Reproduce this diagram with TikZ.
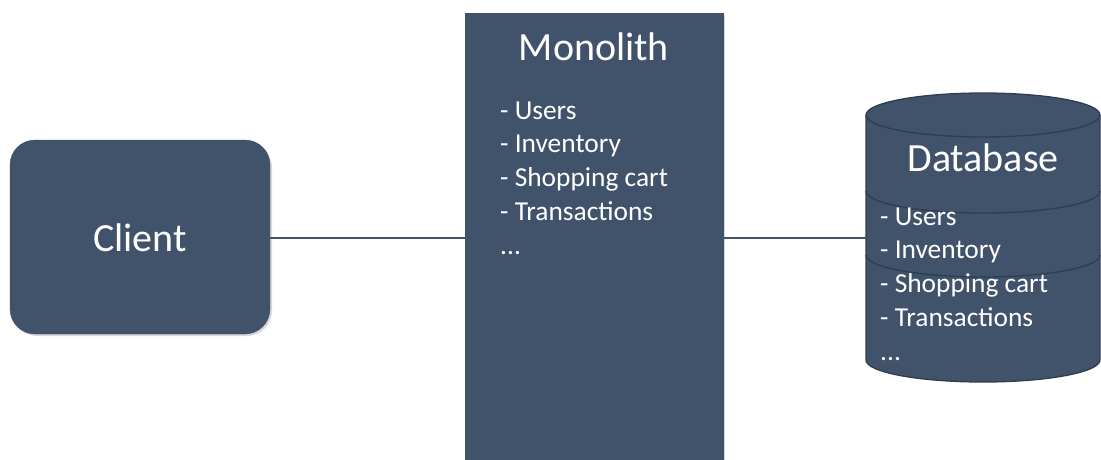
\documentclass[tikz,border=0pt]{standalone}
\usepackage{fontspec}
\setmainfont{Carlito}
\usetikzlibrary{shadows}
\definecolor{slate}{HTML}{41536B}
\definecolor{slateline}{HTML}{44546A}
\definecolor{slatedark}{HTML}{2F3D4F}
\tikzset{
  boxshadow/.style={drop shadow={opacity=0.25,shadow xshift=2pt,shadow yshift=-2pt,fill=black!60}},
  clientbox/.style={fill=slate,draw=slate,rounded corners=25pt,minimum width=260pt,minimum height=194pt,inner sep=0pt,boxshadow},
  monobox/.style={fill=slate,draw=slate,minimum width=258pt,minimum height=446pt,inner sep=0pt,boxshadow},
  bigtext/.style={text=white,font=\fontsize{40}{48}\selectfont,inner sep=0pt},
  listtext/.style={text=white,font=\fontsize{27.4}{33.7}\selectfont,align=left,inner sep=0pt},
  conn/.style={draw=slateline,line width=1.4pt},
  cyledge/.style={draw=slatedark,line width=1.3pt}
}
\begin{document}
\begin{tikzpicture}[x=1pt,y=1pt]
\useasboundingbox (0,0) rectangle (1101,459);
% Client
\node[clientbox] (client) at (140,222) {};
\node[bigtext,anchor=base] (clientlbl) at (140,208) {Client};
% Monolith
\node[monobox,anchor=north west] (mono) at (465,446) {};
\node[bigtext,anchor=base] (monolbl) at (594,398) {Monolith};
\node[listtext,anchor=base west] (monolist) at (500,205) {- Users\\- Inventory\\- Shopping cart\\- Transactions\\...};
% Database cylinder
\path[fill=slate,cyledge] (866,344) -- (866,99) arc[start angle=180,end angle=360,x radius=117,y radius=22] -- (1100,344) arc[start angle=0,end angle=180,x radius=117,y radius=22] -- cycle;
\draw[cyledge] (866,344) arc[start angle=180,end angle=360,x radius=117,y radius=22];
\draw[cyledge] (866,268) arc[start angle=180,end angle=360,x radius=117,y radius=22];
\draw[cyledge] (866,204) arc[start angle=180,end angle=360,x radius=117,y radius=22];
\coordinate (db) at (866,221);
\node[bigtext,anchor=base] (dblbl) at (983,288) {Database};
\node[listtext,anchor=base west] (dblist) at (880,99) {- Users\\- Inventory\\- Shopping cart\\- Transactions\\...};
% connectors
\draw[conn] (client.east |- 0,221) -- (mono.west |- 0,221);
\draw[conn] (mono.east |- 0,221) -- (db);
\end{tikzpicture}
\end{document}
